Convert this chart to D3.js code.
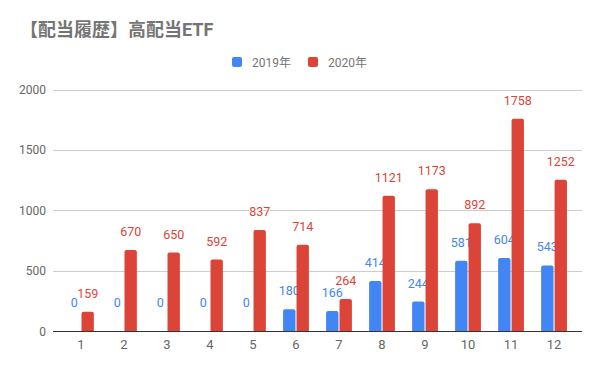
<!DOCTYPE html>
<html><head><meta charset="utf-8">
<script src="https://cdn.jsdelivr.net/npm/d3@7"></script>
<style>body{margin:0;background:#fff}svg{display:block}text{font-family:Roboto,"Noto Sans CJK JP",sans-serif}</style>
</head><body>
<svg id="c" width="600" height="371"></svg>
<script>
const categories = ["1","2","3","4","5","6","7","8","9","10","11","12"];
const seriesNames = ["2019年","2020年"];
const values2019 = [0,0,0,0,0,180,166,414,244,581,604,543];
const values2020 = [159,670,650,592,837,714,264,1121,1173,892,1758,1252];
const yTicks = [0,500,1000,1500,2000];
const colors = ["#4285F4","#DB4437"];
const title = "【配当履歴】高配当ETF";

const svg = d3.select("#c");
const L=53, R=582, T=89.5, B=331;
const y = d3.scaleLinear().domain([0,2000]).range([B,T]);
const x = d3.scaleBand().domain(categories).range([L,R]).paddingInner(0.4).paddingOuter(0.35);
const x1 = d3.scaleBand().domain(seriesNames).range([0,x.bandwidth()]).paddingInner(0.08);

svg.append("text").attr("x",20).attr("y",36).attr("font-size",18).attr("font-weight","bold")
  .attr("fill","#757575").attr("font-family","'Noto Sans CJK JP',sans-serif").text(title);

// legend
const lg = [{x:232,tx:252},{x:308,tx:328}];
seriesNames.forEach((s,i)=>{
  svg.append("rect").attr("x",lg[i].x).attr("y",57).attr("width",10).attr("height",10).attr("rx",2).attr("fill",colors[i]);
  svg.append("text").attr("x",lg[i].tx).attr("y",66.5).attr("font-size",12).attr("fill","#757575").text(s);
});

// grid
svg.append("g").selectAll("line").data(yTicks.filter(d=>d>0)).join("line")
  .attr("x1",L).attr("x2",R).attr("y1",d=>Math.round(y(d))+0.5).attr("y2",d=>Math.round(y(d))+0.5)
  .attr("stroke","#cccccc").attr("stroke-width",1);
svg.append("g").selectAll("text").data(yTicks).join("text")
  .attr("x",46).attr("y",d=>y(d)+4.5).attr("text-anchor","end").attr("font-size",12).attr("fill","#666").text(d=>d);

const data = [values2019, values2020];
function barPath(x0,w,top,bot){
  const r=Math.min(2,(bot-top));
  if(bot-top<=0) return "";
  return `M${x0},${bot}V${top+r}Q${x0},${top} ${x0+r},${top}H${x0+w-r}Q${x0+w},${top} ${x0+w},${top+r}V${bot}Z`;
}
seriesNames.forEach((s,i)=>{
  const g = svg.append("g");
  g.selectAll("path").data(categories).join("path")
    .attr("d",(c,j)=>barPath(x(c)+x1(s), x1.bandwidth(), y(data[i][j]), y(0)))
    .attr("fill",colors[i]);
  g.selectAll("text").data(categories).join("text")
    .attr("x",(c)=>x(c)+x1(s)+x1.bandwidth()/2)
    .attr("y",(c,j)=>Math.min(y(data[i][j]), y(0)-10)-14)
    .attr("text-anchor","middle").attr("font-size",12.5).attr("fill",colors[i])
    .attr("stroke","#fff").attr("stroke-width",2).attr("paint-order","stroke")
    .text((c,j)=>data[i][j]);
});

svg.append("line").attr("x1",L).attr("x2",R).attr("y1",B+0.5).attr("y2",B+0.5).attr("stroke","#333").attr("stroke-width",1);
svg.append("g").selectAll("text").data(categories).join("text")
  .attr("x",c=>x(c)+x.bandwidth()/2).attr("y",349).attr("text-anchor","middle").attr("font-size",13).attr("fill","#666").text(c=>c);
</script>
</body></html>
